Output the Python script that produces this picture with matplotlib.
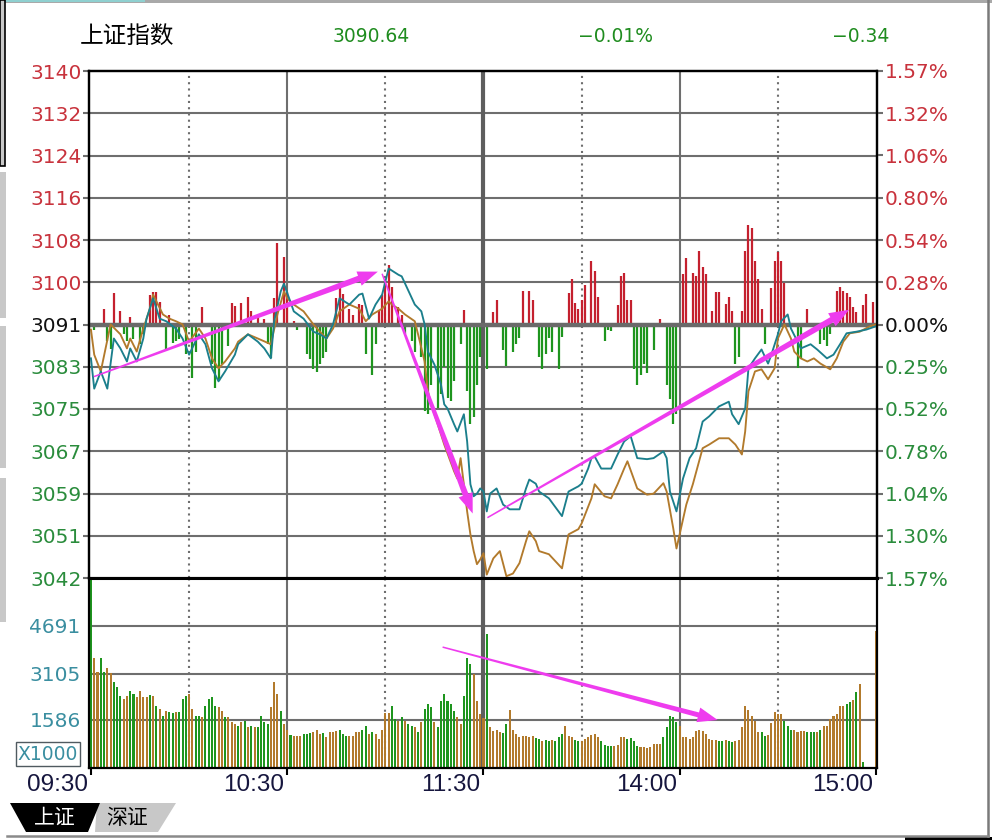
import matplotlib.pyplot as plt
import numpy as np
from matplotlib.patches import Polygon, Rectangle
from matplotlib.transforms import IdentityTransform

plt.rcParams['font.family'] = ['DejaVu Sans', 'Noto Sans CJK SC']

W, H = 992, 840

# ---- data ----
PREV_CLOSE = 3090.98
LAST_PRICE = 3090.64
INDEX_NAME = "上证指数"

price_labels_left = ["3140", "3132", "3124", "3116", "3108", "3100", "3091",
                     "3083", "3075", "3067", "3059", "3051", "3042"]
price_labels_right = ["1.57%", "1.32%", "1.06%", "0.80%", "0.54%", "0.28%", "0.00%",
                      "0.25%", "0.52%", "0.78%", "1.04%", "1.30%", "1.57%"]
time_ticks = [0, 60, 120, 180, 240]
time_labels = ["09:30", "10:30", "11:30", "14:00", "15:00"]
volume_ticks = [1586, 3105, 4691]
volume_labels = ["1586", "3105", "4691"]

# index line (minute from 09:30, price)
index_minutes = [0, 1, 3, 5, 7, 9, 11, 12, 14, 16, 17, 19, 21, 23, 26, 28, 30, 33, 35, 37,
                 39, 41, 44, 45, 48, 51, 53, 55, 56, 58, 59, 62, 65, 68, 70, 72, 74, 76, 79, 82,
                 83, 85, 87, 89, 91, 94, 95, 99, 101, 102, 103, 105, 107, 108, 109, 111, 112, 114, 115, 116,
                 117, 118, 119, 120, 121, 122, 124, 126, 128, 131, 133, 134, 136, 137, 140, 144, 146, 149, 150, 152,
                 153, 154, 156, 159, 161, 163, 165, 167, 170, 172, 175, 176, 177, 179, 181, 183, 185, 187, 189, 192,
                 195, 196, 198, 200, 201, 203, 205, 207, 208, 210, 211, 213, 214, 216, 217, 220, 222, 225, 227, 229,
                 231, 234, 237, 240]
index_prices = [3084.5, 3078.7, 3082.0, 3078.7, 3088.3, 3086.4, 3083.9, 3086.4, 3083.9, 3088.3,
                3092.1, 3096.0, 3092.1, 3091.6, 3090.2, 3088.3, 3085.2, 3089.1, 3087.2, 3082.6,
                3080.1, 3082.0, 3085.2, 3087.2, 3089.1, 3087.7, 3086.4, 3084.5, 3091.6, 3097.3,
                3098.8, 3093.5, 3092.1, 3089.6, 3089.1, 3088.3, 3091.0, 3096.0, 3094.8, 3096.7,
                3096.9, 3092.1, 3094.8, 3096.7, 3101.7, 3100.5, 3100.2, 3094.8, 3093.5, 3091.0,
                3085.8, 3083.3, 3079.5, 3075.7, 3074.9, 3071.9, 3070.5, 3073.8, 3068.6, 3060.4,
                3058.1, 3058.6, 3059.6, 3059.0, 3055.2, 3058.6, 3059.6, 3056.5, 3055.6, 3055.6,
                3059.6, 3061.3, 3060.5, 3059.0, 3057.7, 3054.3, 3059.0, 3060.0, 3060.5, 3063.4,
                3065.4, 3065.7, 3063.4, 3063.4, 3066.1, 3068.6, 3069.6, 3065.4, 3065.2, 3065.4,
                3066.7, 3065.4, 3059.0, 3055.2, 3061.5, 3065.4, 3067.3, 3072.4, 3073.4, 3075.3,
                3076.2, 3073.8, 3071.9, 3074.9, 3082.6, 3084.5, 3086.2, 3083.5, 3085.2, 3089.1,
                3091.6, 3092.9, 3090.2, 3087.7, 3086.4, 3087.2, 3086.2, 3084.5, 3085.2, 3087.2,
                3089.3, 3089.6, 3090.0, 3090.64]

# average (yellow) line
avg_minutes = [0, 1, 3, 6, 9, 11, 12, 14, 16, 18, 19, 22, 24, 26, 28, 30, 33, 35, 37, 39,
               41, 44, 45, 48, 51, 55, 57, 59, 60, 62, 65, 68, 70, 72, 74, 76, 79, 82, 84, 86,
               89, 91, 92, 94, 96, 99, 100, 102, 103, 104, 106, 108, 111, 112, 113, 114, 115, 116, 117, 118,
               119, 120, 121, 123, 125, 127, 129, 131, 133, 134, 136, 137, 140, 144, 146, 149, 150, 153, 154, 157,
               159, 161, 163, 164, 167, 170, 172, 175, 176, 178, 179, 182, 184, 187, 189, 192, 195, 197, 199, 200,
               201, 203, 205, 207, 209, 210, 212, 214, 215, 217, 219, 221, 223, 226, 228, 230, 232, 235, 238, 240]
avg_prices = [3090.0, 3085.2, 3082.0, 3091.0, 3089.1, 3086.4, 3088.3, 3085.8, 3090.2, 3094.0,
              3096.7, 3092.9, 3092.1, 3091.6, 3091.0, 3087.7, 3090.2, 3088.3, 3084.5, 3082.6,
              3083.9, 3086.4, 3087.7, 3089.1, 3088.3, 3087.2, 3092.9, 3097.3, 3096.0, 3094.8,
              3093.5, 3091.0, 3089.6, 3088.3, 3090.2, 3093.5, 3094.8, 3094.0, 3091.6, 3092.9,
              3094.0, 3095.4, 3094.8, 3094.0, 3092.9, 3091.6, 3089.1, 3083.9, 3078.2, 3075.7,
              3071.9, 3068.0, 3062.9, 3061.5, 3065.4, 3060.4, 3055.2, 3050.8, 3047.6, 3045.1,
              3046.0, 3047.2, 3043.1, 3046.2, 3047.6, 3042.8, 3043.3, 3045.3, 3049.5, 3051.4,
              3049.5, 3047.6, 3047.0, 3044.3, 3050.8, 3051.8, 3052.9, 3057.7, 3060.4, 3058.1,
              3057.7, 3060.4, 3063.4, 3064.8, 3059.6, 3058.4, 3058.6, 3060.6, 3059.0, 3052.0,
              3048.1, 3056.5, 3060.4, 3067.3, 3068.0, 3069.2, 3069.2, 3068.0, 3066.1, 3070.5,
              3078.2, 3082.0, 3082.4, 3080.5, 3082.6, 3088.3, 3091.0, 3088.3, 3085.8, 3084.5,
              3083.9, 3084.5, 3083.5, 3082.4, 3084.5, 3087.7, 3089.3, 3089.6, 3090.6, 3091.0]

# red / green strength bars around the previous close (index points)
power_minutes = [1, 4, 5, 6, 7, 9, 10, 11, 12, 13, 15, 16, 18, 19, 20, 21, 23, 24, 25, 26,
                 27, 29, 31, 32, 34, 37, 38, 39, 40, 42, 43, 44, 46, 48, 49, 51, 53, 54, 55, 56,
                 57, 59, 60, 62, 63, 66, 67, 68, 69, 70, 71, 72, 75, 76, 77, 79, 80, 82, 83, 84,
                 86, 87, 88, 89, 90, 91, 92, 94, 95, 96, 98, 99, 101, 102, 103, 104, 106, 107, 108, 109,
                 110, 111, 113, 114, 115, 116, 117, 118, 119, 121, 123, 124, 126, 127, 129, 130, 131, 132, 134, 135,
                 137, 138, 139, 140, 141, 143, 144, 146, 147, 148, 149, 150, 151, 153, 154, 155, 157, 158, 159, 161,
                 162, 163, 164, 165, 166, 167, 168, 169, 170, 172, 174, 176, 177, 178, 179, 181, 182, 184, 185, 186,
                 187, 188, 190, 191, 192, 194, 195, 196, 197, 198, 199, 200, 201, 202, 203, 204, 205, 206, 208, 209,
                 210, 211, 212, 216, 217, 219, 223, 224, 225, 226, 228, 229, 230, 231, 232, 233, 234, 236, 237, 239]
power_values = [-1.0, 3.0, -3.2, -4.6, 6.1, 2.5, -1.9, -3.2, 1.5, -2.7, -3.8, -1.9, 5.7, 6.3, 6.3, 4.4, -4.6, 1.9, -3.6, -3.2,
                -2.7, -5.7, -10.3, -5.2, 3.4, -7.6, -12.2, -10.9, -7.6, -4.2, 4.2, 3.6, 4.2, 5.3, 2.5, 1.5, 1.1, -3.8, -6.5, 5.0,
                15.6, 13.0, 6.3, 0.6, -1.0, -5.7, -6.7, -8.6, -9.0, -7.6, -6.5, -5.2, 5.0, 7.2, 5.9, 3.0, 1.9, 4.0, 3.8, -5.7,
                -9.6, -3.8, 2.5, 5.7, 8.2, 11.3, 7.2, 3.4, 1.9, -1.9, -3.2, -5.2, -6.3, -16.6, -17.2, -11.5, -15.9, -13.4, -8.2, -14.0,
                -14.7, -10.9, -3.8, 2.7, -12.8, -19.1, -17.8, -11.5, -6.3, -8.6, 2.3, 4.6, -4.8, -8.0, -5.2, -3.8, -2.5, 6.5, 6.5, 4.6,
                -6.3, -8.6, -5.7, -2.5, -5.2, -8.6, -2.3, 6.1, 8.8, 4.2, 2.9, 4.6, 7.6, 12.2, 10.3, 5.3, -3.2, -1.0, -1.3, 3.8,
                9.2, 9.9, 4.6, 4.6, -8.6, -11.5, -9.6, -7.6, -9.2, -4.8, 1.1, -11.5, -14.3, -19.1, -17.2, 9.7, 12.8, 9.9, 9.2, 14.1,
                11.1, 9.6, 2.5, 6.3, 6.3, 4.0, 5.3, 2.5, -7.5, -6.3, 2.5, 14.1, 19.1, 18.5, 12.2, 8.8, 3.0, -3.8, 6.9, 12.2,
                13.8, 12.2, 8.0, -8.4, -6.7, 3.0, -3.8, -2.9, -4.2, -1.9, 6.5, 7.2, 6.5, 6.1, 5.3, 3.4, 2.3, 3.8, 5.9, 4.4]

# volume per minute (x1000), m0 .. m240
volume = [6900, 3630, 3168, 3630, 3168, 3300, 3135, 2838, 2673, 2376,
          2277, 2376, 2541, 2442, 2343, 2541, 2343, 2343, 2409, 2376,
          2046, 1947, 1716, 1881, 1848, 1815, 1848, 1848, 2277, 2376,
          2442, 1947, 1716, 1716, 1683, 2046, 2277, 2343, 2046, 2013,
          1881, 1683, 1683, 1518, 1452, 1386, 1518, 1551, 1353, 1386,
          1353, 1353, 1716, 1518, 1452, 2013, 2838, 2442, 1881, 1452,
          1254, 1089, 1056, 1056, 1056, 1122, 1122, 1155, 1188, 1254,
          1122, 1155, 1023, 1188, 1188, 1221, 1254, 1122, 1056, 1056,
          1056, 1188, 1188, 1254, 1386, 1122, 1188, 1122, 957, 1254,
          1815, 1815, 2046, 1617, 1551, 1683, 1551, 1452, 1386, 1353,
          1188, 1518, 1947, 2112, 2013, 1518, 1353, 2211, 2442, 2211,
          2112, 1881, 1683, 1452, 2376, 3630, 3432, 3102, 2211, 1782,
          1650, 4422,
          1353, 1221, 1254, 1188, 1155, 1452, 1914, 1254, 1122,
          1023, 1056, 1056, 1023, 1056, 990, 957, 891, 924, 891,
          924, 891, 1023, 1122, 1386, 1056, 1023, 924, 891, 891,
          957, 1023, 1089, 1122, 1023, 891, 759, 726, 726, 726,
          759, 1023, 1023, 957, 990, 891, 726, 693, 693, 660,
          693, 792, 792, 792, 1023, 1353, 1716, 1683, 1518, 1386,
          1023, 1023, 957, 1023, 1221, 1254, 1221, 1122, 957, 924,
          924, 891, 891, 924, 891, 858, 891, 924, 1353, 2046,
          1914, 1716, 1551, 1188, 1188, 1056, 1089, 1485, 1848, 1782,
          1782, 1551, 1386, 1254, 1254, 1188, 1221, 1221, 1188, 1188,
          1188, 1188, 1254, 1386, 1386, 1617, 1716, 1782, 2046, 2046,
          2112, 2178, 2244, 2508, 2772, 198, 0, 0, 0, 4521]
# B = up minute (brown), G = down minute (green)
volume_dir = ("GBBGGBBGGG" "BBGGBBBBGB" "GBGBGGBGGG" "BBGGBGGGGB" "BGBBBGBGBG"
              "BGGGGBBBGB" "BGBBBGGGBB" "BGBBBBGGGB" "BBBGGBGBBB" "BBGGBGBGGB"
              "GBGGGBGGGG" "GGBBGGGBBB" "B" "G"
              "BBBBGGBBB" "BBBBBGGBGG" "BGGGBBBGGB" "BBBBBGGGGB" "BBBGGGGBBB"
              "BBBBGGGGGB" "BBBBBBBBBB" "BGGBGGBBBB" "BBBBGGBBBB" "BGGGBBBBGG"
              "GBGBBBBBBB" "GGBGBGBBBB")

MAGENTA = "#ee3cee"
RED = "#c4202e"
GREEN = "#1e951e"
TEAL = "#1b7f8c"
BROWN = "#b27a2c"
GRID = "#6e6e6e"
XMIN, XMAX = -0.6, 240.3


def px_rect(x0, y0, x1, y1):
    return [x0 / W, 1 - y1 / H, (x1 - x0) / W, (y1 - y0) / H]


def tapered_arrow(fig, ax, tail, tip, tail_w=1.5, shaft_w=6.0, head_w=15.0, head_len=20.0):
    p0 = ax.transData.transform(tail)
    p1 = ax.transData.transform(tip)
    d = p1 - p0
    u = d / np.hypot(*d)
    n = np.array([-u[1], u[0]])
    base = p1 - u * head_len
    pts = [p0 + n * tail_w / 2, base + n * shaft_w / 2, base + n * head_w / 2, p1,
           base - n * head_w / 2, base - n * shaft_w / 2, p0 - n * tail_w / 2]
    fig.add_artist(Polygon(pts, closed=True, transform=IdentityTransform(),
                           facecolor=MAGENTA, edgecolor="none", zorder=20))


fig = plt.figure(figsize=(W / 100, H / 100), dpi=100)
fig.patch.set_facecolor("white")

# ---- background / window decorations (pixel coords) ----
bg = fig.add_axes([0, 0, 1, 1])
bg.set_xlim(0, W)
bg.set_ylim(H, 0)
bg.axis("off")
bg.add_patch(Rectangle((0, 0), W, 3, color="#a9a9a9", lw=0))
bg.add_patch(Rectangle((0, 0), 145, 2, color="#8fd0d0", lw=0))
bg.add_patch(Rectangle((0, 0), 5, 166, facecolor="#c8c8c8", edgecolor="black", lw=1.2))
for y0, y1 in [(172, 318), (326, 468), (478, 622)]:
    bg.add_patch(Rectangle((0, y0), 6, y1 - y0, color="#c8c8c8", lw=0))
bg.plot([988, 988], [0, 836], color="#7a7a7a", lw=1.8)
bg.plot([7, 988], [836, 836], color="#8a8a8a", lw=1.8)
bg.add_patch(Rectangle((905, 837), 87, 3, color="black", lw=0))

# tabs at the bottom
bg.add_patch(Polygon([(97, 803), (176, 803), (158, 832), (95, 832)], closed=True,
                     facecolor="#c8c8c8", edgecolor="none"))
bg.add_patch(Polygon([(10, 803), (100, 803), (88, 832), (26, 832)], closed=True,
                     facecolor="black", edgecolor="none"))
bg.text(55, 818, "上证", color="white", fontsize=15, family=["Noto Sans CJK SC"],
        ha="center", va="center")
bg.text(127, 818, "深证", color="black", fontsize=15, family=["Noto Sans CJK SC"],
        ha="center", va="center")

# header
change = LAST_PRICE - PREV_CLOSE
change_pct = change / PREV_CLOSE * 100
bg.text(127, 36, INDEX_NAME, fontsize=17, family=["Noto Sans CJK SC"], ha="center", va="center")
header_green = "#1f8c1f"
bg.text(371, 37, f"{LAST_PRICE:.2f}", fontsize=13.5, color=header_green, ha="center", va="center")
bg.text(616, 37, f"{change_pct:.2f}%".replace("-", "\u2212"), fontsize=13.5,
        color=header_green, ha="center", va="center")
bg.text(861, 37, f"{change:.2f}".replace("-", "\u2212"), fontsize=13.5,
        color=header_green, ha="center", va="center")

# ---- price panel ----
ax = fig.add_axes(px_rect(89, 71, 877, 578))
lo, hi = PREV_CLOSE * (1 - 0.0157), PREV_CLOSE * (1 + 0.0157)
ax.set_xlim(XMIN, XMAX)
ax.set_ylim(lo, hi)
levels = np.linspace(hi, lo, len(price_labels_left))

for lv in levels[1:-1]:
    ax.axhline(lv, color=GRID, lw=1.5, zorder=1)
for m in [60, 180]:
    ax.axvline(m, color=GRID, lw=1.5, zorder=1)
for m in [30, 90, 150, 210]:
    ax.axvline(m, color=GRID, lw=1.5, ls=(0, (1, 2)), zorder=1)
ax.axvline(120, color="#5e5e5e", lw=3, zorder=1)

pv = np.array(power_values)
ax.vlines(power_minutes, PREV_CLOSE, PREV_CLOSE + pv,
          colors=[RED if v > 0 else GREEN for v in pv], lw=1.6, zorder=2)
ax.axhline(PREV_CLOSE, color="#6a6a6a", lw=3.2, zorder=3)

ax.plot(avg_minutes, avg_prices, color=BROWN, lw=1.35, zorder=4)
ax.plot(index_minutes, index_prices, color=TEAL, lw=1.35, zorder=5)

label_colors = ["#c8323c"] * 6 + ["#101010"] + ["#2a8c3c"] * 6
ax.set_yticks(levels)
ax.set_yticklabels(price_labels_left, fontsize=14.5)
ax.set_xticks([])
ax.tick_params(axis="y", length=4, width=1.5, color=GRID, pad=1.5)
for t, c in zip(ax.get_yticklabels(), label_colors):
    t.set_color(c)

axr = ax.twinx()
axr.set_ylim(lo, hi)
axr.set_yticks(levels)
axr.set_yticklabels(price_labels_right, fontsize=14.5)
axr.tick_params(axis="y", length=4, width=1.5, color=GRID, pad=1.5)
for t, c in zip(axr.get_yticklabels(), label_colors):
    t.set_color(c)

for a in (ax, axr):
    for s in a.spines.values():
        s.set_color("black")
        s.set_linewidth(1.6)
    a.spines["bottom"].set_linewidth(2.2)

# ---- volume panel ----
axv = fig.add_axes(px_rect(89, 578, 877, 768))
axv.set_xlim(XMIN, XMAX)
axv.set_ylim(0, 6270)
for lv in volume_ticks:
    axv.axhline(lv, color=GRID, lw=1.5, zorder=1)
for m in [60, 180]:
    axv.axvline(m, color=GRID, lw=1.5, zorder=1)
for m in [30, 90, 150, 210]:
    axv.axvline(m, color=GRID, lw=1.5, ls=(0, (1, 2)), zorder=1)
axv.axvline(120, color="#5e5e5e", lw=3, zorder=1)

vol_colors = [BROWN if d == "B" else GREEN for d in volume_dir]
axv.bar(np.arange(len(volume)), volume, width=0.62, color=vol_colors, lw=0, zorder=2)

axv.set_yticks(volume_ticks)
axv.set_yticklabels(volume_labels, fontsize=14.5, color="#3a8ea0")
axv.tick_params(axis="y", length=0, pad=6)
axv.set_xticks(time_ticks)
axv.set_xticklabels([])
axv.tick_params(axis="x", length=5, width=1.5, color="black")
for m, lab in zip(time_ticks, time_labels):
    axv.annotate(lab, xy=(m, 0), xycoords=("data", "axes fraction"),
                 xytext=(-3, -17), textcoords="offset pixels", ha="right", va="center",
                 fontsize=17.5, family=["Liberation Sans"], color="#16163e")
for s in axv.spines.values():
    s.set_color("black")
    s.set_linewidth(1.6)
axv.spines["top"].set_linewidth(2.2)

bg.text(48, 754, "X1000", fontsize=13.5, color="#3a8ea0", ha="center", va="center",
        bbox=dict(boxstyle="square,pad=0.12", facecolor="white", edgecolor="#505a60", lw=1))

# ---- hand-drawn style annotation arrows ----
tapered_arrow(fig, ax, (0.9, 3081.0), (87.7, 3101.1))
tapered_arrow(fig, ax, (89.0, 3100.7), (116.7, 3054.8))
tapered_arrow(fig, ax, (121.2, 3054.0), (231.8, 3093.8))
tapered_arrow(fig, axv, (107.5, 3990), (191.6, 1584), shaft_w=5.0)

fig.savefig("out.png", dpi=100)
